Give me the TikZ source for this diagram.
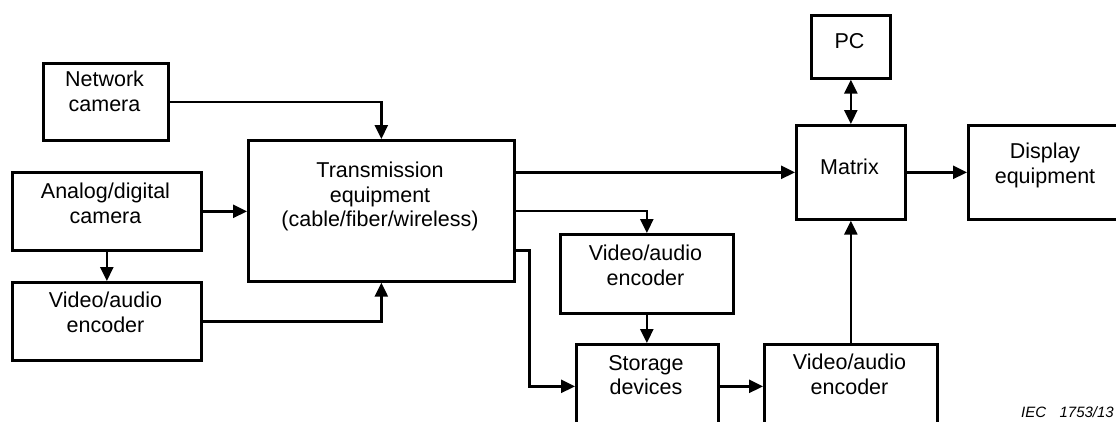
\documentclass[tikz,border=0pt]{standalone}
\usepackage{fontspec}
\setmainfont{Liberation Sans}
\usetikzlibrary{arrows.meta}
\begin{document}
\begin{tikzpicture}[x=1pt,y=-1pt,
  blk/.style={draw=black, line width=2.7pt, inner sep=0pt, anchor=north west},
  lbl/.style={inner sep=0pt, align=center, font=\fontsize{21.5}{24.5}\selectfont},
  arr/.style={line width=2.5pt, -{Triangle[length=14pt,width=13pt]}},
  darr/.style={line width=2.5pt, {Triangle[length=14pt,width=13pt]}-{Triangle[length=14pt,width=13pt]}}]
\useasboundingbox (0,0) rectangle (1116,421);
\clip (0,0) rectangle (1116,421);
\fill[white] (0,0) rectangle (1116,421);
% boxes
\node[blk, minimum width=125pt, minimum height=77pt] (netcam) at (42,62) {};
\node[blk, minimum width=189pt, minimum height=78pt] (analog) at (11,171) {};
\node[blk, minimum width=189pt, minimum height=78pt] (enc1) at (11,281) {};
\node[blk, minimum width=266pt, minimum height=141pt] (trans) at (247,139) {};
\node[blk, minimum width=79pt, minimum height=63pt] (pc) at (810,14) {};
\node[blk, minimum width=109pt, minimum height=94pt] (matrix) at (795,124) {};
\node[blk, minimum width=156pt, minimum height=94pt] (display) at (967,124) {};
\node[blk, minimum width=173pt, minimum height=79pt] (enc2) at (559,233) {};
\node[blk, minimum width=142pt, minimum height=84pt] (storage) at (575,343) {};
\node[blk, minimum width=173pt, minimum height=84pt] (enc3) at (763,343) {};
% texts
\node[lbl, anchor=north] (netcamt) at (104.5,70.8) {Network\\camera};
\node[lbl, anchor=north] (analogt) at (105.5,182.8) {Analog/digital\\camera};
\node[lbl, anchor=north] (enc1t) at (105.5,291.8) {Video/audio\\encoder};
\node[lbl, anchor=north] (transt) at (380,161.8) {Transmission\\equipment\\(cable/fiber/wireless)};
\node[lbl, anchor=base] (pct) at (849.5,48) {PC};
\node[lbl, anchor=base] (matrixt) at (849.5,174) {Matrix};
\node[lbl, anchor=north] (displayt) at (1045,142.8) {Display\\equipment};
\node[lbl, anchor=north] (enc2t) at (645.5,244.8) {Video/audio\\encoder};
\node[lbl, anchor=north] (storaget) at (646,354.8) {Storage\\devices};
\node[lbl, anchor=north] (enc3t) at (849.5,353.8) {Video/audio\\encoder};
\node[inner sep=0pt, anchor=base east, font=\fontsize{15}{18}\selectfont\itshape] (iec) at (1114,417.5) {IEC\hspace{13.5pt}1753/13};
% connectors
\draw[arr] (netcam.east) -| (trans.north);
\draw[arr] (analog.east) -- (analog.east -| trans.west);
\draw[arr] (analog.south) -- (enc1.north);
\draw[arr] (enc1.east) -| (trans.south);
\draw[arr] (trans.east |- matrix.west) -- (matrix.west);
\draw[arr] (trans.east) -| (enc2.north);
\draw[arr] ([yshift=-39.5pt]trans.east) -- ++(14,0) |- (storage.west);
\draw[arr] (enc2.south) -- (enc2.south |- storage.north);
\draw[arr] (storage.east) -- (storage.east -| enc3.west);
\draw[arr] (enc3.north) -- (matrix.south);
\draw[darr] (pc.south) -- (matrix.north);
\draw[arr] (matrix.east) -- (matrix.east -| display.west);
\end{tikzpicture}
\end{document}
